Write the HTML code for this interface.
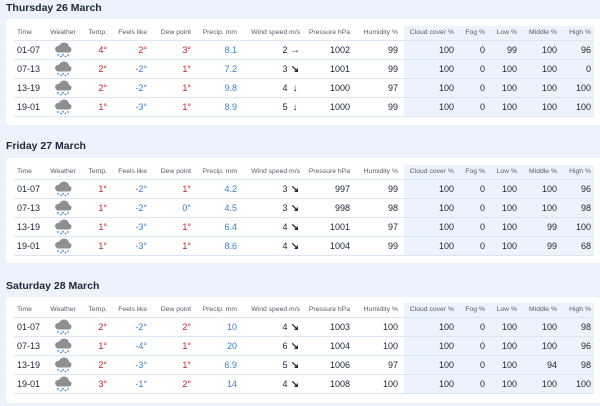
<!DOCTYPE html>
<html><head><meta charset="utf-8"><style>
body{margin:0;width:600px;height:406px;background:#edf3fc;font-family:"Liberation Sans",sans-serif;position:relative;overflow:hidden;color:#1b2533}
h2{position:absolute;left:6px;margin:0;font-size:10.5px;font-weight:bold;color:#1b2a3a}
.card{position:absolute;left:6px;width:600px;background:#fff;border-radius:4px}
.shade{position:absolute;left:398px;width:190px;background:#edf3fc}
table{position:absolute;left:8px;top:0;border-collapse:collapse;table-layout:fixed;width:580px}
td,th{padding:0;text-align:right;white-space:nowrap;height:18px;line-height:12px;border-bottom:1px solid #dae6f4;font-size:9px}
th{font-weight:normal;font-size:6.8px;color:#555d68;height:14px;line-height:10px;border-bottom:1px solid #dae6f4}
td:first-child,th:first-child{text-align:left;padding-left:3px}
td:nth-child(2),th:nth-child(2){text-align:center}
td svg{display:block;margin:0 auto}
td:nth-child(9),th:nth-child(9){padding-right:6px}
td:last-child,th:last-child{padding-right:3px}
.r{color:#c8202a}.b{color:#3a7fd5}
.ar{display:inline-block;width:10px;text-align:center;font-size:10px;font-weight:bold}
</style></head><body>
<svg width="0" height="0" style="position:absolute"><symbol id="ic" viewBox="0 0 20 16"><ellipse cx="7" cy="7" rx="5" ry="3.5" fill="#8d8f93"/><ellipse cx="11" cy="5" rx="5" ry="4.5" fill="#8d8f93"/><ellipse cx="14.5" cy="7.5" rx="4" ry="3" fill="#8d8f93"/><rect x="3" y="6" width="15" height="4.5" rx="2" fill="#8d8f93"/><g fill="#3a8ae0"><circle cx="5" cy="13" r=".9"/><circle cx="8" cy="14.5" r=".9"/><circle cx="10" cy="12.8" r=".9"/><circle cx="12.5" cy="14.5" r=".9"/><circle cx="15" cy="13" r=".9"/></g></symbol></svg>

<h2 style="top:2px">Thursday 26 March</h2>
<div class="card" style="top:19px;height:106px"><div class="shade" style="top:7px;height:91px"></div>
<table style="top:7px"><colgroup><col style="width:26px"><col style="width:46px"><col style="width:21px"><col style="width:40px"><col style="width:44px"><col style="width:46px"><col style="width:63px"><col style="width:50px"><col style="width:54px"><col style="width:50px"><col style="width:31px"><col style="width:32px"><col style="width:40px"><col style="width:37px"></colgroup>
<tr><th>Time</th><th>Weather</th><th>Temp.</th><th>Feels like</th><th>Dew point</th><th>Precip. mm</th><th>Wind speed m/s</th><th>Pressure hPa</th><th>Humidity %</th><th>Cloud cover %</th><th>Fog %</th><th>Low %</th><th>Middle %</th><th>High %</th></tr>
<tr><td>01-07</td><td><svg width="20" height="16"><use href="#ic"/></svg></td><td class="r">4°</td><td class="r">2°</td><td class="r">3°</td><td class="b">8.1</td><td>2 <span class="ar">→</span></td><td>1002</td><td>99</td><td>100</td><td>0</td><td>99</td><td>100</td><td>96</td></tr>
<tr><td>07-13</td><td><svg width="20" height="16"><use href="#ic"/></svg></td><td class="r">2°</td><td class="b">-2°</td><td class="r">1°</td><td class="b">7.2</td><td>3 <span class="ar">↘</span></td><td>1001</td><td>99</td><td>100</td><td>0</td><td>100</td><td>100</td><td>0</td></tr>
<tr><td>13-19</td><td><svg width="20" height="16"><use href="#ic"/></svg></td><td class="r">2°</td><td class="b">-2°</td><td class="r">1°</td><td class="b">9.8</td><td>4 <span class="ar">↓</span></td><td>1000</td><td>97</td><td>100</td><td>0</td><td>100</td><td>100</td><td>100</td></tr>
<tr><td>19-01</td><td><svg width="20" height="16"><use href="#ic"/></svg></td><td class="r">1°</td><td class="b">-3°</td><td class="r">1°</td><td class="b">8.9</td><td>5 <span class="ar">↓</span></td><td>1000</td><td>99</td><td>100</td><td>0</td><td>100</td><td>100</td><td>100</td></tr>
</table></div>

<h2 style="top:140px">Friday 27 March</h2>
<div class="card" style="top:158px;height:105px"><div class="shade" style="top:7px;height:91px"></div>
<table style="top:7px"><colgroup><col style="width:26px"><col style="width:46px"><col style="width:21px"><col style="width:40px"><col style="width:44px"><col style="width:46px"><col style="width:63px"><col style="width:50px"><col style="width:54px"><col style="width:50px"><col style="width:31px"><col style="width:32px"><col style="width:40px"><col style="width:37px"></colgroup>
<tr><th>Time</th><th>Weather</th><th>Temp.</th><th>Feels like</th><th>Dew point</th><th>Precip. mm</th><th>Wind speed m/s</th><th>Pressure hPa</th><th>Humidity %</th><th>Cloud cover %</th><th>Fog %</th><th>Low %</th><th>Middle %</th><th>High %</th></tr>
<tr><td>01-07</td><td><svg width="20" height="16"><use href="#ic"/></svg></td><td class="r">1°</td><td class="b">-2°</td><td class="r">1°</td><td class="b">4.2</td><td>3 <span class="ar">↘</span></td><td>997</td><td>99</td><td>100</td><td>0</td><td>100</td><td>100</td><td>96</td></tr>
<tr><td>07-13</td><td><svg width="20" height="16"><use href="#ic"/></svg></td><td class="r">1°</td><td class="b">-2°</td><td class="b">0°</td><td class="b">4.5</td><td>3 <span class="ar">↘</span></td><td>998</td><td>98</td><td>100</td><td>0</td><td>100</td><td>100</td><td>98</td></tr>
<tr><td>13-19</td><td><svg width="20" height="16"><use href="#ic"/></svg></td><td class="r">1°</td><td class="b">-3°</td><td class="r">1°</td><td class="b">6.4</td><td>4 <span class="ar">↘</span></td><td>1001</td><td>97</td><td>100</td><td>0</td><td>100</td><td>99</td><td>100</td></tr>
<tr><td>19-01</td><td><svg width="20" height="16"><use href="#ic"/></svg></td><td class="r">1°</td><td class="b">-3°</td><td class="r">1°</td><td class="b">8.6</td><td>4 <span class="ar">↘</span></td><td>1004</td><td>99</td><td>100</td><td>0</td><td>100</td><td>99</td><td>68</td></tr>
</table></div>

<h2 style="top:280px">Saturday 28 March</h2>
<div class="card" style="top:297px;height:106px"><div class="shade" style="top:6px;height:91px"></div>
<table style="top:6px"><colgroup><col style="width:26px"><col style="width:46px"><col style="width:21px"><col style="width:40px"><col style="width:44px"><col style="width:46px"><col style="width:63px"><col style="width:50px"><col style="width:54px"><col style="width:50px"><col style="width:31px"><col style="width:32px"><col style="width:40px"><col style="width:37px"></colgroup>
<tr><th>Time</th><th>Weather</th><th>Temp.</th><th>Feels like</th><th>Dew point</th><th>Precip. mm</th><th>Wind speed m/s</th><th>Pressure hPa</th><th>Humidity %</th><th>Cloud cover %</th><th>Fog %</th><th>Low %</th><th>Middle %</th><th>High %</th></tr>
<tr><td>01-07</td><td><svg width="20" height="16"><use href="#ic"/></svg></td><td class="r">2°</td><td class="b">-2°</td><td class="r">2°</td><td class="b">10</td><td>4 <span class="ar">↘</span></td><td>1003</td><td>100</td><td>100</td><td>0</td><td>100</td><td>100</td><td>98</td></tr>
<tr><td>07-13</td><td><svg width="20" height="16"><use href="#ic"/></svg></td><td class="r">1°</td><td class="b">-4°</td><td class="r">1°</td><td class="b">20</td><td>6 <span class="ar">↘</span></td><td>1004</td><td>100</td><td>100</td><td>0</td><td>100</td><td>100</td><td>96</td></tr>
<tr><td>13-19</td><td><svg width="20" height="16"><use href="#ic"/></svg></td><td class="r">2°</td><td class="b">-3°</td><td class="r">1°</td><td class="b">6.9</td><td>5 <span class="ar">↘</span></td><td>1006</td><td>97</td><td>100</td><td>0</td><td>100</td><td>94</td><td>98</td></tr>
<tr><td>19-01</td><td><svg width="20" height="16"><use href="#ic"/></svg></td><td class="r">3°</td><td class="b">-1°</td><td class="r">2°</td><td class="b">14</td><td>4 <span class="ar">↘</span></td><td>1008</td><td>100</td><td>100</td><td>0</td><td>100</td><td>100</td><td>100</td></tr>
</table></div>
</body></html>
